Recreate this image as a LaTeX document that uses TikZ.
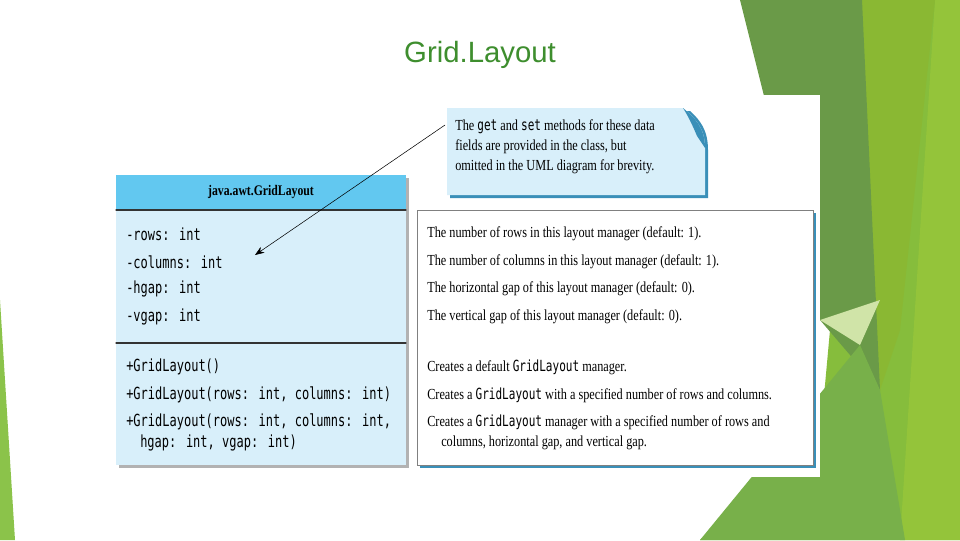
\documentclass[tikz,border=0pt]{standalone}
\usepackage{fontspec}
\setmainfont{Liberation Serif}
\newfontfamily\titlefont{Liberation Sans}
\newfontfamily\narrowserif[FakeStretch=0.8]{Liberation Serif}
\newfontfamily\narrowmono[FakeStretch=0.72]{DejaVu Sans Mono}
\definecolor{umlhead}{HTML}{62C8F0}
\definecolor{umlbody}{HTML}{D8EFFA}
\definecolor{boxedge}{HTML}{3A8FB8}
\definecolor{titlegreen}{HTML}{3E8E2E}
\definecolor{greenbase}{HTML}{86BD3C}
\definecolor{greenbright}{HTML}{94C43A}
\definecolor{greenolive}{HTML}{8AB833}
\definecolor{greendark}{HTML}{6A9A48}
\definecolor{greenpale}{HTML}{D0E4A8}
\definecolor{greenmid}{HTML}{78B04A}
\definecolor{greenleft}{HTML}{8BC34A}
\usetikzlibrary{arrows.meta}
\begin{document}
\begin{tikzpicture}[x=0.75pt, y=-0.75pt, line cap=round,
  mono/.style={anchor=west, inner sep=0pt, font=\narrowmono\fontsize{12.5}{14}\selectfont},
  desc/.style={anchor=west, inner sep=0pt, font=\narrowserif\fontsize{11.5}{13}\selectfont}]

  % frame
  \useasboundingbox (0,0) rectangle (960,540);
  \fill[white] (0,0) rectangle (960,540);

  % green decorations
  \fill[greenbase] (860,0) -- (960,0) -- (960,540) -- (700,540) -- (820,440) -- cycle;
  \fill[greenbright] (935,0) -- (960,0) -- (960,540) -- (900,540) -- cycle;
  \fill[greenolive] (860,0) -- (935,0) -- (900,330) -- (880,390) -- cycle;
  \fill[greendark] (740,0) -- (862,0) -- (880,390) -- (820,320) -- cycle;
  \fill[greenpale] (820,320) -- (880,300) -- (860,345) -- cycle;
  \fill[greenmid] (700,540) -- (860,345) -- (880,390) -- (905,540) -- cycle;
  \fill[greenleft] (0,300) -- (15,540) -- (0,540) -- cycle;

  % title
  \node[font=\titlefont\fontsize{22}{26}\selectfont, text=titlegreen] (title) at (480,55) {Grid.Layout};

  % picture area
  \fill[white] (108,95) rectangle (820,477);

  % class box
  \fill[gray!60] (119,178) rectangle (409,468);
  \fill[umlbody] (116,175) rectangle (406,465);
  \fill[umlhead] (116,175) rectangle (406,210);
  \draw[thick, black!80] (116,210) -- (406,210);
  \draw[thick, black!80] (116,343) -- (406,343);
  \node[font=\narrowserif\fontsize{11}{13}\selectfont\bfseries] (cls) at (261,192) {java.awt.GridLayout};
  \node[mono] (rows) at (126,234) {-rows: int};
  \node[mono] (cols) at (126,262) {-columns: int};
  \node[mono] (hgap) at (126,289) {-hgap: int};
  \node[mono] (vgap) at (126,317) {-vgap: int};
  \node[mono] (ctora) at (126,367) {+GridLayout()};
  \node[mono] (ctorb) at (126,395) {+GridLayout(rows: int, columns: int)};
  \node[mono] (ctorc) at (126,422) {+GridLayout(rows: int, columns: int,};
  \node[mono] (ctorcc) at (140,443) {hgap: int, vgap: int)};

  % description box
  \fill[boxedge] (420,213) rectangle (816,468);
  \draw[gray, fill=white] (417,210) rectangle (813,465);
  \node[desc] (d1) at (427,234) {The number of rows in this layout manager (default: 1).};
  \node[desc] (d2) at (427,262) {The number of columns in this layout manager (default: 1).};
  \node[desc] (d3) at (427,289) {The horizontal gap of this layout manager (default: 0).};
  \node[desc] (d4) at (427,317) {The vertical gap of this layout manager (default: 0).};
  \node[desc] (d5) at (427,367) {Creates a default {\narrowmono GridLayout} manager.};
  \node[desc] (d6) at (427,395) {Creates a {\narrowmono GridLayout} with a specified number of rows and columns.};
  \node[desc] (d7) at (427,422) {Creates a {\narrowmono GridLayout} manager with a specified number of rows and};
  \node[desc] (d8) at (441,443) {columns, horizontal gap, and vertical gap.};

  % note
  \fill[boxedge] (450,111) -- (690,111) .. controls (700,120) and (708,130) .. (708,150) -- (708,198) -- (450,198) -- cycle;
  \fill[umlbody] (447,108) -- (683,108) .. controls (695,118) and (705,128) .. (705,148) -- (705,195) -- (447,195) -- cycle;
  \fill[boxedge] (683,108) .. controls (695,118) and (705,128) .. (705,148) -- (697,136) .. controls (692,124) and (688,116) .. (683,108);
  \node[desc, align=left, anchor=north west] (note) at (455,119)
    {The {\narrowmono get} and {\narrowmono set} methods for these data\\[2pt]fields are provided in the class, but\\[2pt]omitted in the UML diagram for brevity.};
  \coordinate (tip) at (255,255);
  \draw[-{Stealth[length=7pt]}, thin] (445,125) -- (tip);
\end{tikzpicture}
\end{document}
